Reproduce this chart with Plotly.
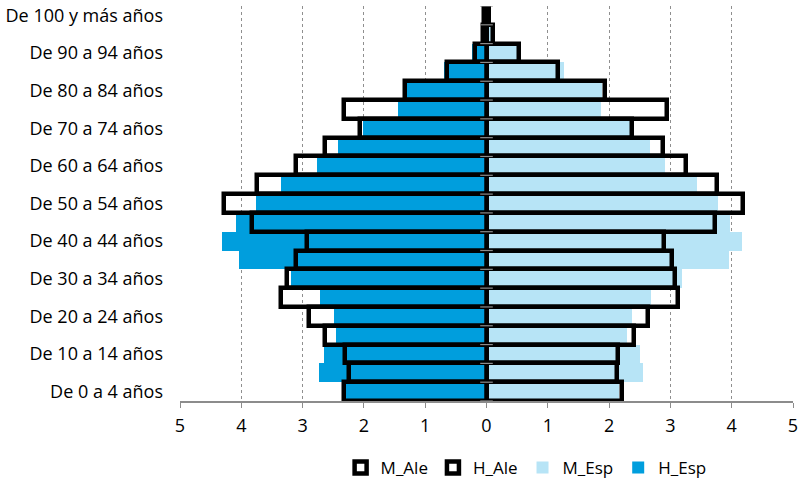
import plotly.graph_objects as go

# Age groups, youngest first
age_groups = [
    "De 0 a 4 años", "De 5 a 9 años", "De 10 a 14 años", "De 15 a 19 años",
    "De 20 a 24 años", "De 25 a 29 años", "De 30 a 34 años", "De 35 a 39 años",
    "De 40 a 44 años", "De 45 a 49 años", "De 50 a 54 años", "De 55 a 59 años",
    "De 60 a 64 años", "De 65 a 69 años", "De 70 a 74 años", "De 75 a 79 años",
    "De 80 a 84 años", "De 85 a 89 años", "De 90 a 94 años", "De 95 a 99 años",
    "De 100 y más años",
]

# Percentage of population per age group
h_ale = [2.33, 2.25, 2.31, 2.63, 2.89, 3.36, 3.25, 3.11, 2.93, 3.83, 4.28,
         3.74, 3.10, 2.63, 2.06, 2.33, 1.33, 0.64, 0.19, 0.05, 0.04]
m_ale = [2.21, 2.13, 2.15, 2.40, 2.63, 3.13, 3.07, 3.02, 2.90, 3.73, 4.18,
         3.76, 3.26, 2.88, 2.37, 2.94, 1.93, 1.17, 0.53, 0.11, 0.04]
h_esp = [2.30, 2.74, 2.65, 2.46, 2.49, 2.71, 3.19, 4.04, 4.32, 4.08, 3.76,
         3.36, 2.77, 2.43, 2.01, 1.45, 1.29, 0.70, 0.24, 0.06, 0.02]
m_esp = [2.16, 2.56, 2.50, 2.30, 2.38, 2.69, 3.19, 3.96, 4.17, 3.98, 3.78,
         3.44, 2.91, 2.66, 2.34, 1.86, 1.88, 1.27, 0.49, 0.08, 0.02]

x_ticks = [-5, -4, -3, -2, -1, 0, 1, 2, 3, 4, 5]
x_tick_text = [str(abs(v)) for v in x_ticks]

pos = list(range(len(age_groups)))
label_pos = pos[::2]
label_text = age_groups[::2]

FONT = "Open Sans"
FSIZE = 18
DARK_BLUE = "#009EDD"
LIGHT_BLUE = "#B7E4F6"

fig = go.Figure()

# Filled bars (underneath)
fig.add_trace(go.Bar(
    y=pos, x=[-v for v in h_esp], orientation="h", name="H_Esp",
    marker=dict(color=DARK_BLUE, line=dict(width=0)), legendrank=4,
))
fig.add_trace(go.Bar(
    y=pos, x=m_esp, orientation="h", name="M_Esp",
    marker=dict(color=LIGHT_BLUE, line=dict(width=0)), legendrank=3,
))

# Outlined bars (on top)
fig.add_trace(go.Bar(
    y=pos, x=[-v for v in h_ale], orientation="h", name="H_Ale",
    marker=dict(color="rgba(255,255,255,0)", line=dict(color="black", width=4.5)),
    legendrank=2,
))
fig.add_trace(go.Bar(
    y=pos, x=m_ale, orientation="h", name="M_Ale",
    marker=dict(color="rgba(255,255,255,0)", line=dict(color="black", width=4.5)),
    legendrank=1,
))

# Small tick marks on the vertical axis at category boundaries
bounds = [p - 0.5 for p in pos] + [pos[-1] + 0.5]
fig.add_trace(go.Scatter(
    x=[0] * len(bounds), y=bounds, mode="markers",
    marker=dict(symbol="line-ew", size=9, line=dict(color="#8c8c8c", width=1.2)),
    showlegend=False, hoverinfo="skip",
))

fig.update_layout(
    width=800, height=481,
    margin=dict(l=180, r=7, t=6, b=80, autoexpand=False),
    barmode="overlay", bargap=0,
    plot_bgcolor="white", paper_bgcolor="white",
    font=dict(family=FONT, size=FSIZE, color="black"),
    showlegend=True,
    legend=dict(
        orientation="h", xref="paper", x=0.262, xanchor="left",
        yref="container", y=0.027, yanchor="middle",
        font=dict(family=FONT, size=17, color="black"),
        itemwidth=30, traceorder="normal",
    ),
    xaxis=dict(
        range=[-5, 5], tickvals=x_ticks, ticktext=x_tick_text,
        showgrid=True, gridcolor="#8f8f8f", griddash="dot", gridwidth=1,
        zeroline=True, zerolinecolor="#8c8c8c", zerolinewidth=2,
        showline=True, linecolor="#8c8c8c", linewidth=1.5,
        ticks="outside", tickcolor="#8c8c8c", ticklen=5,
        ticklabelstandoff=3, automargin=False,
        tickfont=dict(family=FONT, size=FSIZE, color="black"),
    ),
    yaxis=dict(
        range=[-0.5, 20.5], tickvals=label_pos, ticktext=label_text,
        showgrid=False, zeroline=False, showline=False, ticks="",
        ticklabelstandoff=16, automargin=False,
        tickfont=dict(family=FONT, size=FSIZE, color="black"),
    ),
)

fig.write_html("out.html")
